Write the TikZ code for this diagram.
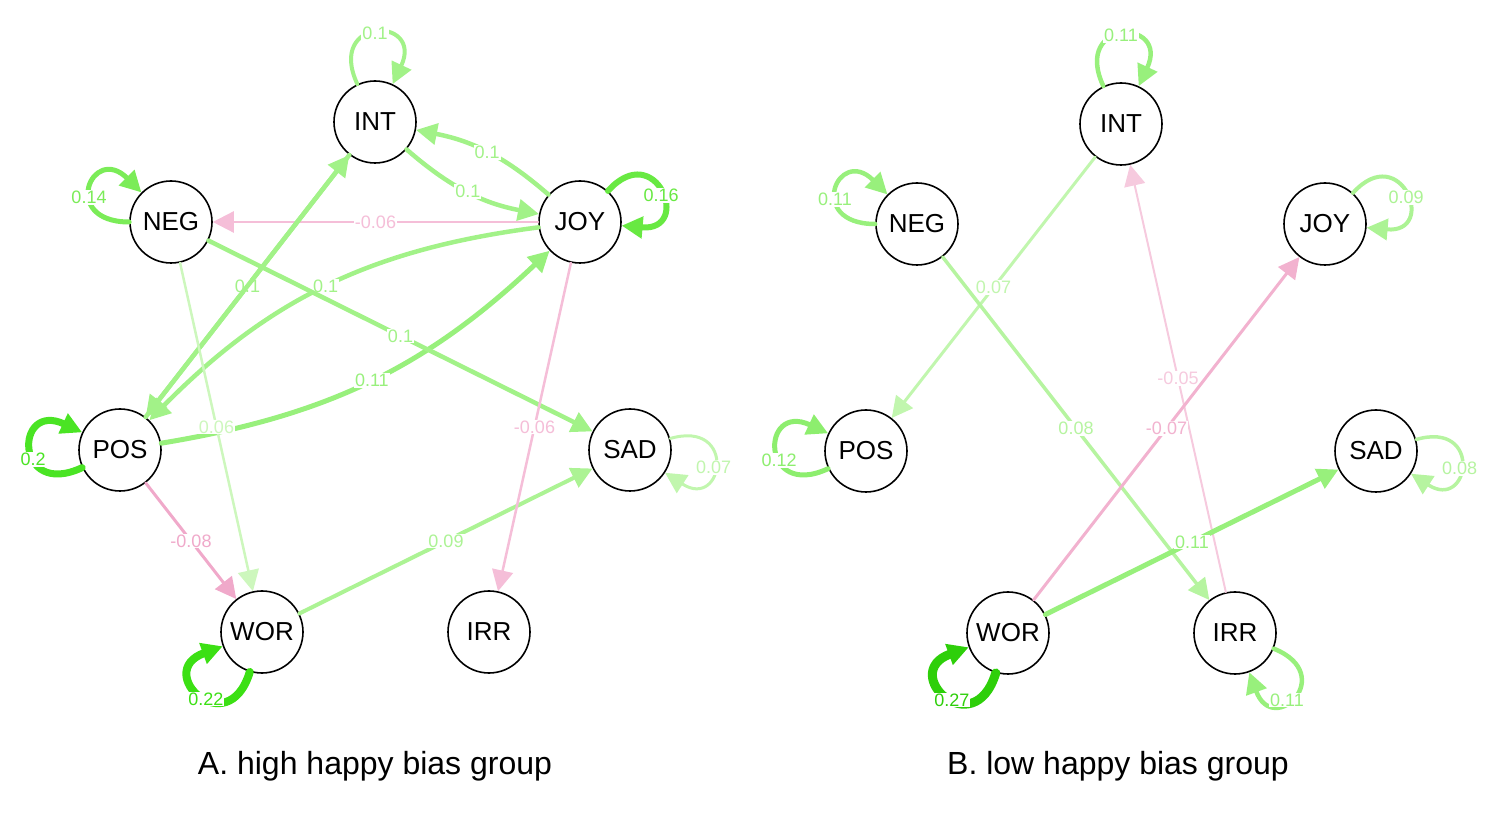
\documentclass[tikz,border=0pt]{standalone}
\usepackage{fontspec}
\setmainfont{Liberation Sans}
\usetikzlibrary{arrows.meta}
\definecolor{grn06}{HTML}{CDF7BD}
\definecolor{grn07}{HTML}{C1F6AE}
\definecolor{grn08}{HTML}{B6F4A0}
\definecolor{grn09}{HTML}{ACF394}
\definecolor{grn10}{HTML}{A2F288}
\definecolor{grn11}{HTML}{98F07C}
\definecolor{grn12}{HTML}{8DEE6E}
\definecolor{grn14}{HTML}{7BEC58}
\definecolor{grn16}{HTML}{68E942}
\definecolor{grn20}{HTML}{4AE424}
\definecolor{grn22}{HTML}{3CE014}
\definecolor{grn27}{HTML}{2ECF0A}
\definecolor{pnk05}{HTML}{F6CADE}
\definecolor{pnk06}{HTML}{F5BED8}
\definecolor{pnk07}{HTML}{F2B2CF}
\definecolor{pnk08}{HTML}{F0A9CA}

\begin{document}
\begin{tikzpicture}[x=1pt,y=1pt,line cap=round,line join=round,
  emo/.style={circle,draw=black,line width=1.6pt,fill=white,minimum size=82pt,inner sep=0pt,font=\fontsize{26}{26}\selectfont},
  lnk/.style 2 args={color=#1,line width=#2,-{Triangle[length=21pt,width=21pt]}},
  lab/.style={fill=white,inner sep=1pt,font=\fontsize{18}{18}\selectfont},
  ttl/.style={font=\fontsize{32}{32}\selectfont}]
\useasboundingbox (0,0) rectangle (1500,820);
\node[emo] (intA) at (375,698) {INT};
\node[emo] (negA) at (171,598) {NEG};
\node[emo] (joyA) at (580,598) {JOY};
\node[emo] (posA) at (120,370) {POS};
\node[emo] (sadA) at (630,370) {SAD};
\node[emo] (worA) at (262,188) {WOR};
\node[emo] (irrA) at (489,188) {IRR};
\node[ttl] (ttlA) at (375,54) {A. high happy bias group};
\draw[lnk={grn10}{4pt}] (intA) to[out=115,in=65,distance=75] node[lab] {0.1} (intA);
\draw[lnk={grn14}{5pt}] (negA) to[out=180,in=135,distance=70] node[lab,pos=0.4] {0.14} (negA);
\draw[lnk={grn16}{6pt}] (joyA) to[out=48,in=-5,distance=72] node[lab,pos=0.55] {0.16} (joyA);
\draw[lnk={grn20}{7pt}] (posA) to[out=205,in=155,distance=75] node[lab,pos=0.4] {0.2} (posA);
\draw[lnk={grn22}{8pt}] (worA) to[out=253,in=200,distance=75] node[lab,pos=0.45] {0.22} (worA);
\draw[lnk={grn07}{3pt}] (sadA) to[out=16,in=-33,distance=70] node[lab,pos=0.55] {0.07} (sadA);
\draw[lnk={grn10}{4.5pt}] (intA) to[bend right=15] node[lab] {0.1} (joyA);
\draw[lnk={grn10}{4.5pt}] (joyA) to[bend right=15] node[lab] {0.1} (intA);
\draw[lnk={pnk06}{2.5pt}] (joyA) -- node[lab] {-0.06} (negA);
\draw[lnk={grn10}{4.5pt}] (posA) -- node[lab] {0.1} (intA);
\draw[lnk={grn10}{4.5pt}] (intA) -- (posA);
\draw[lnk={grn10}{4.5pt}] (joyA) to[bend right=19] node[lab] {0.1} (posA);
\draw[lnk={grn11}{5pt}] (posA) to[bend right=17] node[lab] {0.11} (joyA);
\draw[lnk={grn10}{4.5pt}] (negA) -- node[lab] {0.1} (sadA);
\draw[lnk={grn06}{2.5pt}] (negA) -- node[lab] {0.06} (worA);
\draw[lnk={pnk08}{3pt}] (posA) -- node[lab] {-0.08} (worA);
\draw[lnk={grn09}{4pt}] (worA) -- node[lab] {0.09} (sadA);
\draw[lnk={pnk06}{2.5pt}] (joyA) -- node[lab] {-0.06} (irrA);
\node[emo] (intB) at (1121,696) {INT};
\node[emo] (negB) at (917,596) {NEG};
\node[emo] (joyB) at (1325,596) {JOY};
\node[emo] (posB) at (866,369) {POS};
\node[emo] (sadB) at (1376,369) {SAD};
\node[emo] (worB) at (1008,187) {WOR};
\node[emo] (irrB) at (1235,187) {IRR};
\node[ttl] (ttlB) at (1118,54) {B. low happy bias group};
\draw[lnk={grn11}{4.5pt}] (intB) to[out=115,in=65,distance=75] node[lab] {0.11} (intB);
\draw[lnk={grn11}{4.5pt}] (negB) to[out=180,in=135,distance=70] node[lab,pos=0.4] {0.11} (negB);
\draw[lnk={grn09}{4pt}] (joyB) to[out=48,in=-5,distance=72] node[lab,pos=0.55] {0.09} (joyB);
\draw[lnk={grn12}{5pt}] (posB) to[out=205,in=155,distance=75] node[lab,pos=0.4] {0.12} (posB);
\draw[lnk={grn08}{3.5pt}] (sadB) to[out=16,in=-33,distance=70] node[lab,pos=0.55] {0.08} (sadB);
\draw[lnk={grn27}{9pt}] (worB) to[out=253,in=200,distance=75] node[lab,pos=0.45] {0.27} (worB);
\draw[lnk={grn11}{4.5pt}] (irrB) to[out=-22,in=-70,distance=70] node[lab,pos=0.6] {0.11} (irrB);
\draw[lnk={grn07}{3pt}] (intB) -- node[lab] {0.07} (posB);
\draw[lnk={grn08}{3.5pt}] (negB) -- node[lab] {0.08} (irrB);
\draw[lnk={pnk05}{2pt}] (irrB) -- node[lab] {-0.05} (intB);
\draw[lnk={pnk07}{3pt}] (worB) -- node[lab] {-0.07} (joyB);
\draw[lnk={grn11}{5pt}] (worB) -- node[lab] {0.11} (sadB);
\end{tikzpicture}
\end{document}
